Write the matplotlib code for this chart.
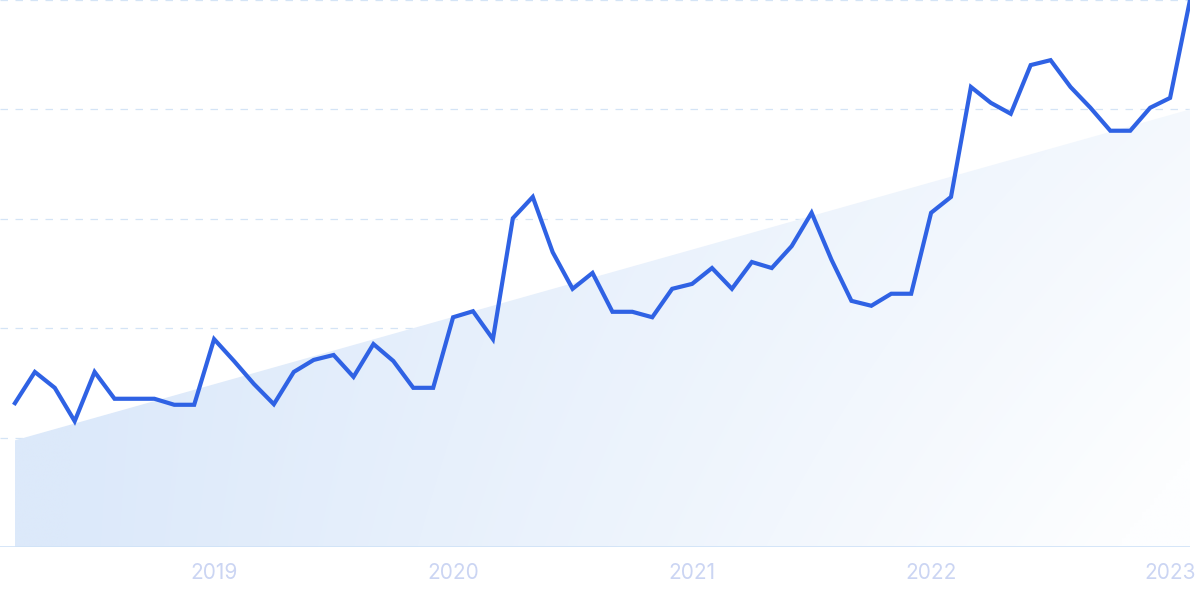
import numpy as np
import matplotlib
matplotlib.use("Agg")
import matplotlib.pyplot as plt
from matplotlib.path import Path
from matplotlib.patches import PathPatch

# ---- data ----
months = np.arange(60)  # 2018-03 .. 2023-02 monthly
values = [26.3, 32.0, 29.1, 23.0, 32.0, 27.1, 27.1, 27.1, 26.0, 26.0,
          38.0, 34.0, 29.8, 26.1, 32.0, 34.2, 35.1, 31.1, 37.1, 34.0,
          29.1, 29.1, 42.0, 43.1, 38.0, 60.1, 64.0, 53.9, 47.2, 50.1,
          43.0, 43.0, 42.0, 47.2, 48.1, 51.0, 47.2, 52.1, 51.0, 55.0,
          61.1, 52.5, 45.0, 44.1, 46.3, 46.3, 61.1, 64.0, 84.1, 81.2,
          79.2, 88.1, 89.0, 84.1, 80.3, 76.1, 76.1, 80.3, 82.1, 100.0]
trend_start, trend_end = 19.5, 80.0
tick_labels = ["2019", "2020", "2021", "2022", "2023"]
tick_pos = [10, 22, 34, 46, 58]
grid_levels = [20, 40, 60, 80, 100]

line_color = "#2f62e4"
grid_color = "#d4e4f6"
label_color = "#cbd5f3"

fig = plt.figure(figsize=(12, 5.99), dpi=100)
ax = fig.add_axes([0, (599 - 547) / 599, 1190 / 1200, 547 / 599])
ax.set_xlim(-0.75, 59)
ax.set_ylim(0, 100)

# gradient trend area
x0, x1 = months[0], months[-1]
verts = [(x0, 0), (x0, trend_start), (x1, trend_end), (x1, 0), (x0, 0)]
path = Path(verts)
patch = PathPatch(path, facecolor="none", edgecolor="none")
ax.add_patch(patch)
nx, ny = 300, 150
gx = np.linspace(0, 1, nx)
gy = np.linspace(0, 1, ny)
GX, GY = np.meshgrid(gx, gy)
# GY = 0 at bottom (origin lower): lighter towards bottom-right
t = np.clip(0.7 * GX + 0.3 * (1 - GY) * GX * 1.4 - 0.05, 0, 1)
c0 = np.array([0xdc, 0xe9, 0xfa]) / 255
c1 = np.array([0xfd, 0xfe, 0xff]) / 255
img = c0[None, None, :] * (1 - t[..., None]) + c1[None, None, :] * t[..., None]
im = ax.imshow(img, extent=[x0, x1, 0, 100], origin="lower", aspect="auto",
               zorder=1, interpolation="bilinear")
im.set_clip_path(patch)

# gridlines
for g in grid_levels:
    ax.axhline(g, color=grid_color, lw=0.9, ls=(0, (6, 6)), zorder=0.5)
ax.axhline(0, color="#cfe2f7", lw=1.2, zorder=2)

ax.plot(months, values, color=line_color, lw=3.0, zorder=3,
        solid_joinstyle="miter", clip_on=True)

for s in ax.spines.values():
    s.set_visible(False)
ax.set_xticks([])
ax.set_yticks([])
ax.patch.set_alpha(0)

for p, lab in zip(tick_pos, tick_labels):
    ax.text(p, -4.8, lab, ha="center", va="center", fontsize=15,
            color=label_color, family=["Inter", "DejaVu Sans"],
            transform=ax.transData, clip_on=False)

fig.savefig("out.png", dpi=100)
